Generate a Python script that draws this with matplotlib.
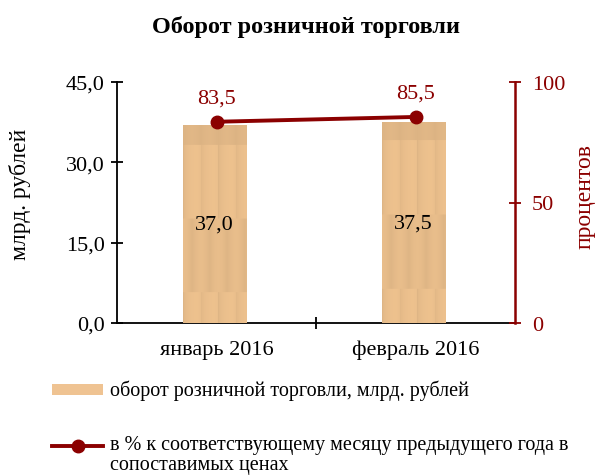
import matplotlib.pyplot as plt
import numpy as np
from matplotlib.patches import Rectangle
from matplotlib.lines import Line2D

plt.rcParams['font.family'] = ['Liberation Serif', 'DejaVu Serif']

months = ['январь 2016', 'февраль 2016']
turnover = [37.0, 37.5]
percent = [83.5, 85.5]
turnover_labels = ['37,0', '37,5']
percent_labels = ['83,5', '85,5']
left_ticks = [0, 15, 30, 45]
left_tick_labels = ['0,0', '15,0', '30,0', '45,0']
right_ticks = [0, 50, 100]

RED = '#8B0000'
WOOD = np.array([0.97, 0.79, 0.58])


def wood_texture(bands):
    # planks with a gradient; rows listed in bands get a shifted, darker look
    h, w = 200, 64
    xs = np.linspace(0, 1, w)
    img = np.zeros((h, w, 3))
    rows = np.linspace(0, 1, h, endpoint=False)
    for i, r in enumerate(rows):
        kind = 'light'
        for a, b, k in bands:
            if a <= r < b:
                kind = k
        if kind == 'light':
            ph = (xs * 3.6) % 1.0
            shade = 0.90 + 0.09 * ph ** 0.5 * (1 - ph) ** 0.2
            img[i] = WOOD * shade[:, None]
        elif kind == 'mid':
            ph = (xs * 3.6 + 0.5) % 1.0
            shade = 0.90 + 0.04 * np.sin(ph * np.pi)
            img[i] = WOOD * shade[:, None]
        else:
            ph = (xs * 3.6) % 1.0
            shade = 0.89 + 0.02 * np.sin(ph * np.pi)
            img[i] = WOOD * shade[:, None]
    return np.clip(img, 0, 1)


fig = plt.figure(figsize=(5.95, 4.77), dpi=100)
ax = fig.add_axes([117 / 595, 1 - 324 / 477, 398 / 595, 241 / 477])
ax2 = ax.twinx()

x = np.arange(len(months))
bars = ax.bar(x - 0.01, turnover, width=0.32, color=WOOD, zorder=2)
band_sets = [[(0, 0.105, 'dark'), (0.475, 0.845, 'mid')],
             [(0, 0.09, 'dark'), (0.46, 0.83, 'mid')]]
for bar, bands in zip(bars, band_sets):
    bx, by = bar.get_x(), bar.get_y()
    im = ax.imshow(wood_texture(bands), extent=[bx, bx + bar.get_width(), by, by + bar.get_height()],
                   aspect='auto', zorder=3, interpolation='bilinear')
    im.set_clip_path(bar)
for xi, v, lab in zip(x, turnover, turnover_labels):
    ax.text(xi - 0.01, v / 2, lab, ha='center', va='center', fontsize=16, color='black', zorder=5)

ax2.plot(x, percent, color=RED, lw=2.8, marker='o', markersize=9, zorder=4)
for xi, v, lab in zip(x, percent, percent_labels):
    ax2.text(xi, v + 6, lab, ha='center', va='bottom', fontsize=16, color=RED)

ax.set_xlim(-0.5, 1.5)
ax.set_ylim(0, 45)
ax2.set_ylim(0, 100)
ax.set_yticks(left_ticks)
ax.set_yticklabels(left_tick_labels, fontsize=16)
ax2.set_yticks(right_ticks)
ax2.set_yticklabels([str(t) for t in right_ticks], fontsize=16, color=RED)
ax.set_xticks(x)
ax.set_xticklabels(months, fontsize=16)
ax.tick_params(axis='x', length=0, pad=12)
ax.set_xticks([0.5], minor=True)
ax.tick_params(axis='x', which='minor', direction='inout', length=8, width=1.3)
ax.tick_params(axis='y', direction='inout', length=8, width=1.3, pad=5)
ax2.tick_params(axis='y', direction='inout', length=8, width=1.3, color=RED, pad=8)

for a in (ax, ax2):
    a.spines['top'].set_visible(False)
ax2.spines['left'].set_visible(False)
ax2.spines['bottom'].set_visible(False)
ax.spines['right'].set_visible(False)
ax.spines['left'].set_linewidth(1.3)
ax.spines['bottom'].set_linewidth(1.3)
ax2.spines['right'].set_color(RED)
ax2.spines['right'].set_linewidth(1.8)

fig.text(20 / 595, 1 - 194 / 477, 'млрд. рублей', rotation=90, ha='center', va='center', fontsize=17)
fig.text(585 / 595, 1 - 197 / 477, 'процентов', rotation=90, ha='center', va='center',
         fontsize=17, color=RED)

fig.text(306 / 595, 1 - 27 / 477, 'Оборот розничной торговли', ha='center', va='center',
         fontsize=17.5, fontweight='bold')

# legend drawn by hand in figure pixels
W, H = 595, 477
fig.patches.append(Rectangle((52 / W, 1 - 396 / H), 51 / W, 11 / H, transform=fig.transFigure,
                             facecolor='#EFC392', edgecolor='none'))
fig.lines.append(Line2D([52 / W, 103 / W], [1 - 447 / H, 1 - 447 / H], transform=fig.transFigure,
                        color=RED, lw=2.8))
fig.lines.append(Line2D([78 / W], [1 - 447 / H], transform=fig.transFigure, color=RED,
                        marker='o', markersize=9))
fig.text(110 / W, 1 - 391 / H, 'оборот розничной торговли, млрд. рублей', ha='left', va='center',
         fontsize=14.5)
fig.text(110 / W, 1 - 436 / H, 'в % к соответствующему месяцу предыдущего года в\nсопоставимых ценах',
         ha='left', va='top', fontsize=14.5, linespacing=1.05)

fig.savefig('out.png', dpi=100)
